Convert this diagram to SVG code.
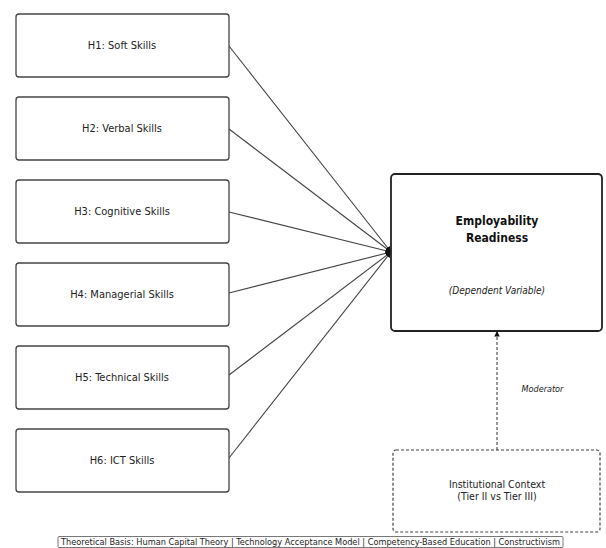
<svg xmlns="http://www.w3.org/2000/svg" width="606" height="548" viewBox="0 0 606 548">
<defs>
<style>
.box{fill:#fff;stroke:#444;stroke-width:1.3}
.dv{fill:#fff;stroke:#222;stroke-width:1.8}
.mod{fill:#fff;stroke:#444;stroke-width:1.2;stroke-dasharray:3 2}
.t{font-family:"DejaVu Sans Condensed","DejaVu Sans",sans-serif;font-size:11px;fill:#222;text-anchor:middle}
.b{font-weight:bold;font-size:12px;fill:#111}
.i{font-style:italic;font-size:10px}
.conn{stroke:#444;stroke-width:1.1;fill:none}
</style>
<marker id="ah" viewBox="0 0 10 10" refX="10" refY="5" markerWidth="5" markerHeight="5" orient="auto">
<path d="M0,0 L10,5 L0,10 z" fill="#111"/>
</marker>
</defs>
<rect width="606" height="548" fill="#fff"/>
<g id="connectors">
<line class="conn" x1="229" y1="46" x2="391" y2="252" marker-end="url(#ah)"/>
<line class="conn" x1="229" y1="129" x2="391" y2="252" marker-end="url(#ah)"/>
<line class="conn" x1="229" y1="212" x2="391" y2="252" marker-end="url(#ah)"/>
<line class="conn" x1="229" y1="293" x2="391" y2="252" marker-end="url(#ah)"/>
<line class="conn" x1="229" y1="375" x2="391" y2="252" marker-end="url(#ah)"/>
<line class="conn" x1="229" y1="458" x2="391" y2="252" marker-end="url(#ah)"/>
<line class="conn" x1="497" y1="450" x2="497" y2="331" stroke-dasharray="3 2" marker-end="url(#ah)"/>
<text class="t i" x="542.5" y="392" style="font-size:9px">Moderator</text>
</g>
<g id="h1"><rect class="box" x="16" y="14" width="213" height="63" rx="3"/><text class="t" x="122" y="49">H1: Soft Skills</text></g>
<g id="h2"><rect class="box" x="16" y="97" width="213" height="63" rx="3"/><text class="t" x="122" y="132">H2: Verbal Skills</text></g>
<g id="h3"><rect class="box" x="16" y="180" width="213" height="63" rx="3"/><text class="t" x="122" y="215">H3: Cognitive Skills</text></g>
<g id="h4"><rect class="box" x="16" y="263" width="213" height="63" rx="3"/><text class="t" x="122" y="298">H4: Managerial Skills</text></g>
<g id="h5"><rect class="box" x="16" y="346" width="213" height="63" rx="3"/><text class="t" x="122" y="381">H5: Technical Skills</text></g>
<g id="h6"><rect class="box" x="16" y="429" width="213" height="63" rx="3"/><text class="t" x="122" y="464">H6: ICT Skills</text></g>
<g id="dv">
<rect class="dv" x="391" y="174" width="211" height="157" rx="4"/>
<text class="t b" x="497" y="225">Employability</text>
<text class="t b" x="497" y="242">Readiness</text>
<text class="t i" x="497" y="294">(Dependent Variable)</text>
</g>
<g id="moderator">
<rect class="mod" x="393" y="450" width="207" height="82" rx="3"/>
<text class="t" x="497" y="488" style="font-size:10.5px">Institutional Context</text>
<text class="t" x="497" y="500" style="font-size:10.5px">(Tier II vs Tier III)</text>
</g>
<g id="caption">
<rect x="58" y="536.5" width="505" height="11" fill="#fff" stroke="#555" stroke-width="0.8" rx="1"/>
<text class="t" x="310.5" y="545" style="font-size:9.2px" textLength="499" lengthAdjust="spacingAndGlyphs">Theoretical Basis: Human Capital Theory | Technology Acceptance Model | Competency-Based Education | Constructivism</text>
</g>
</svg>
